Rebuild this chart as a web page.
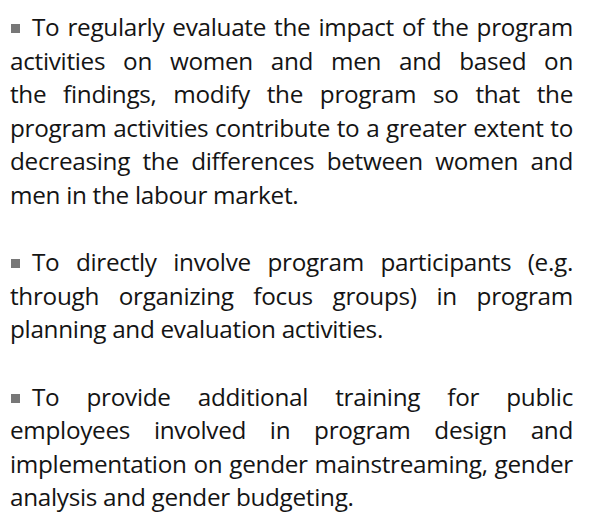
<!DOCTYPE html>
<html>
<head>
<meta charset="utf-8">
<script src="https://cdn.jsdelivr.net/npm/chart.js@4"></script>
<style>
  html, body { margin: 0; padding: 0; background: #fff; }
  body { width: 589px; height: 522px; overflow: hidden; }
  #text {
    position: absolute; left: 10px; top: 10px; width: 563px;
    font-family: "Open Sans", sans-serif; font-size: 24.3px; line-height: 33.6px;
    letter-spacing: -0.3px; color: #141414;
  }
  #text p { margin: 0 0 33.6px 0; }
  .ln { display: block; white-space: nowrap; text-align: justify; text-align-last: justify; }
  .ln.last { text-align-last: left; }
  .bullet { display: inline-block; width: 9px; height: 9px; background: #777; margin: 0 12px 0 1px; vertical-align: 3px; }
</style>
</head>
<body>
<div id="text"></div>
<script>
// the three recommendations, line by line as printed
const para1 = [
  "To regularly evaluate the impact of the program",
  "activities on women and men and based on",
  "the findings, modify the program so that the",
  "program activities contribute to a greater extent to",
  "decreasing the differences between women and",
  "men in the labour market."
];
const para2 = [
  "To directly involve program participants (e.g.",
  "through organizing focus groups) in program",
  "planning and evaluation activities."
];
const para3 = [
  "To provide additional training for public",
  "employees involved in program design and",
  "implementation on gender mainstreaming, gender",
  "analysis and gender budgeting."
];

const box = document.getElementById('text');
[para1, para2, para3].forEach(lines => {
  const p = document.createElement('p');
  lines.forEach((t, i) => {
    const s = document.createElement('span');
    s.className = 'ln' + (i === lines.length - 1 ? ' last' : '');
    if (i === 0) {
      const b = document.createElement('span');
      b.className = 'bullet';
      s.appendChild(b);
    }
    s.appendChild(document.createTextNode(t));
    p.appendChild(s);
  });
  box.appendChild(p);
});
</script>
</body>
</html>
